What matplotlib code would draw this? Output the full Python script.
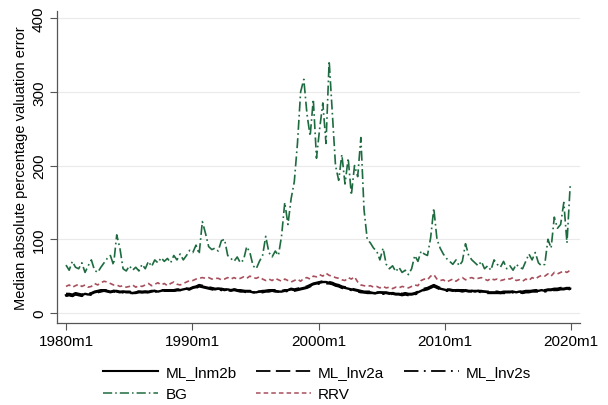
import numpy as np
import matplotlib
matplotlib.use("Agg")
import matplotlib.pyplot as plt
from matplotlib.lines import Line2D

plt.rcParams['font.family'] = ['Liberation Sans', 'DejaVu Sans']

# quarterly readings, 1980Q1 .. 2019Q4
bg = [65, 58, 70, 62,  60, 68, 55, 64,  72, 58, 55, 62,  68, 74, 78, 65,
      106, 88, 60, 57,  64, 58, 62, 57,  66, 60, 70, 63,  72, 68, 75, 70,
      74, 68, 78, 72,  80, 72, 78, 85,  82, 92, 80, 124,  108, 90, 86, 88,
      84, 98, 100, 78,  74, 70, 76, 68,  72, 90, 82, 64,  60, 70, 78, 104,
      82, 76, 84, 78,  105, 150, 120, 155,  178, 230, 300, 317,  270, 240, 290, 210,
      250, 285, 230, 342,  270, 200, 180, 215,  175, 210, 160, 200,  185, 238, 140, 100,
      95, 88, 84, 72,  88, 66, 60, 64,  56, 62, 55, 58,  52, 60, 78, 70,
      84, 80, 78, 102,  142, 100, 88, 80,  74, 70, 66, 72,  64, 70, 94, 78,
      72, 68, 64, 70,  60, 64, 58, 72,  66, 62, 70, 60,  64, 58, 66, 62,
      60, 70, 80, 72,  82, 68, 64, 66,  100, 88, 130, 115,  120, 150, 95, 172]

rrv = [36, 38, 35, 37,  39, 36, 38, 35,  36, 40, 38, 41,  43, 42, 40, 38,
       38, 36, 37, 35,  36, 38, 35, 37,  36, 38, 40, 37,  39, 41, 38, 40,
       37, 40, 42, 39,  38, 40, 42, 44,  44, 46, 47, 48,  47, 48, 46, 47,
       47, 45, 46, 48,  46, 48, 46, 47,  49, 47, 50, 48,  47, 49, 46, 44,
       46, 44, 47, 45,  43, 46, 44, 42,  44, 46, 43, 47,  48, 46, 50, 49,
       52, 50, 54, 51,  50, 48, 47, 45,  44, 48, 46, 49,  42, 38, 37, 36,
       37, 35, 36, 34,  36, 34, 35, 33,  35, 34, 36, 35,  34, 36, 38, 37,
       44, 46, 45, 50,  52, 46, 44, 45,  42, 44, 46, 43,  46, 48, 45, 47,
       48, 46, 47, 48,  46, 44, 47, 45,  46, 44, 45, 47,  46, 48, 44, 45,
       43, 46, 44, 48,  46, 49, 51, 50,  53, 50, 55, 53,  55, 57, 55, 58]

ml_lnm2b = [24, 25, 23, 26,  25, 24, 26, 25,  26, 28, 29, 30,  31, 30, 29, 30,
            29, 28, 29, 28,  28, 27, 28, 29,  28, 29, 28, 29,  30, 29, 30, 31,
            30, 31, 30, 31,  31, 32, 33, 32,  34, 35, 37, 36,  35, 34, 33, 32,
            33, 32, 31, 32,  31, 32, 31, 30,  30, 29, 29, 28,  28, 29, 29, 30,
            30, 31, 30, 29,  29, 30, 31, 32,  31, 32, 33, 34,  35, 37, 39, 40,
            41, 42, 42, 41,  40, 38, 37, 35,  34, 33, 32, 31,  30, 29, 28, 28,
            28, 27, 27, 28,  27, 27, 26, 27,  26, 26, 25, 26,  25, 25, 26, 28,
            30, 32, 33, 35,  37, 35, 33, 32,  31, 31, 30, 31,  31, 30, 31, 30,
            30, 29, 30, 29,  29, 28, 28, 28,  28, 27, 28, 28,  28, 29, 28, 29,
            28, 29, 29, 30,  30, 30, 31, 30,  31, 31, 32, 32,  33, 33, 34, 33]

ml_lnv2a = [26, 26, 25, 27,  26, 25, 27, 26,  27, 29, 30, 31,  31, 31, 30, 30,
            30, 29, 29, 29,  29, 28, 29, 29,  29, 29, 29, 30,  30, 30, 31, 31,
            31, 31, 31, 32,  32, 33, 33, 33,  35, 36, 38, 37,  36, 35, 34, 33,
            33, 33, 32, 32,  32, 32, 31, 31,  30, 30, 30, 29,  29, 29, 30, 30,
            31, 31, 31, 30,  30, 31, 31, 33,  32, 33, 34, 35,  36, 38, 40, 41,
            42, 43, 43, 42,  41, 39, 38, 36,  35, 34, 33, 32,  31, 30, 29, 29,
            29, 28, 28, 28,  28, 28, 27, 27,  27, 27, 26, 27,  26, 26, 27, 29,
            31, 33, 34, 36,  38, 36, 34, 33,  32, 32, 31, 31,  31, 31, 31, 31,
            30, 30, 30, 30,  29, 29, 29, 29,  29, 28, 29, 29,  29, 29, 29, 29,
            29, 30, 30, 30,  31, 31, 31, 31,  32, 32, 33, 33,  34, 34, 34, 34]

ml_lnv2s = [23, 24, 23, 25,  24, 23, 25, 24,  25, 27, 28, 29,  30, 29, 28, 29,
            28, 27, 28, 28,  27, 27, 27, 28,  28, 28, 28, 28,  29, 29, 29, 30,
            30, 30, 30, 31,  31, 31, 32, 32,  33, 34, 36, 35,  34, 33, 32, 31,
            32, 31, 30, 31,  30, 31, 30, 29,  29, 28, 28, 28,  28, 28, 28, 29,
            29, 30, 29, 29,  28, 29, 30, 31,  30, 31, 32, 33,  34, 36, 38, 39,
            40, 41, 40, 40,  39, 37, 36, 34,  33, 32, 31, 30,  29, 28, 28, 27,
            27, 27, 26, 27,  26, 26, 25, 26,  25, 25, 24, 25,  24, 24, 25, 27,
            29, 31, 32, 34,  36, 34, 32, 31,  30, 30, 29, 30,  30, 29, 30, 29,
            29, 28, 29, 28,  28, 27, 27, 27,  27, 27, 27, 27,  27, 28, 27, 28,
            27, 28, 28, 29,  29, 29, 30, 29,  30, 30, 31, 31,  32, 32, 33, 32]

xticks = [1980, 1990, 2000, 2010, 2020]
xtick_labels = ['1980m1', '1990m1', '2000m1', '2010m1', '2020m1']
yticks = [0, 100, 200, 300, 400]

# quarters placed from 1980m1 to 2019m12
x = np.linspace(1980, 2019 + 11 / 12, len(bg))

fig = plt.figure(figsize=(6.08, 4.06), dpi=100)
ax = fig.add_axes([0.094, 0.202, 0.860, 0.768])

for y in yticks:
    ax.axhline(y, color='#eaeaea', linewidth=0.8, zorder=0)

green = '#1e6b40'
red = '#a84f5c'
ax.plot(x, bg, color=green, linewidth=1.2, linestyle=(0, (6, 2, 1, 2)))
ax.plot(x, rrv, color=red, linewidth=1.2, linestyle=(0, (3, 2)))
ax.plot(x, ml_lnv2s, color='black', linewidth=1.6, linestyle=(0, (8, 3, 1, 3)))
ax.plot(x, ml_lnv2a, color='black', linewidth=1.6, linestyle=(0, (8, 3)))
ax.plot(x, ml_lnm2b, color='black', linewidth=1.7)

ax.set_xlim(1979.3, 2020.7)
ax.set_ylim(-13.6, 409.5)
ax.set_xticks(xticks)
ax.set_xticklabels(xtick_labels)
ax.set_yticks(yticks)
ax.set_yticklabels([str(v) for v in yticks], rotation=90, va='center')
ax.tick_params(axis='both', labelsize=11, color='#555555', length=5, width=0.8)
ax.tick_params(axis='x', pad=3)
ax.tick_params(axis='y', pad=3)
for side in ['top', 'right']:
    ax.spines[side].set_visible(False)
for side in ['left', 'bottom']:
    ax.spines[side].set_color('#555555')
    ax.spines[side].set_linewidth(0.9)
ax.set_ylabel('Median absolute percentage valuation error', fontsize=10.5, labelpad=3)

handles = [
    Line2D([], [], color='black', linewidth=1.5),
    Line2D([], [], color=green, linewidth=1.1, linestyle=(0, (6, 2, 1, 2))),
    Line2D([], [], color='black', linewidth=1.3, linestyle=(0, (8, 3))),
    Line2D([], [], color=red, linewidth=1.1, linestyle=(0, (3, 2))),
    Line2D([], [], color='black', linewidth=1.3, linestyle=(0, (8, 3, 1, 3))),
]
labels = ['ML_lnm2b', 'BG', 'ML_lnv2a', 'RRV', 'ML_lnv2s']
fig.legend(handles, labels, loc='center', bbox_to_anchor=(0.522, 0.054), ncol=3,
           frameon=False, fontsize=11, handlelength=3.6, handletextpad=0.45,
           columnspacing=1.3, labelspacing=0.5)

fig.savefig('out.png', dpi=100)
